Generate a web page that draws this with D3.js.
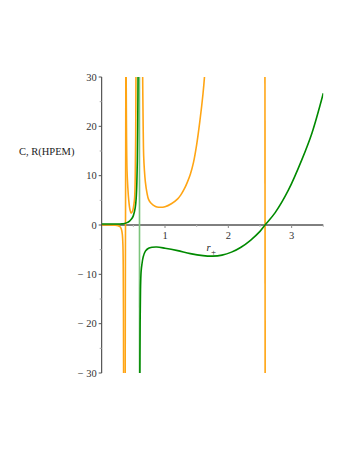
<!DOCTYPE html>
<html><head><meta charset="utf-8">
<script src="https://cdn.jsdelivr.net/npm/d3@7"></script>
<style>
html,body{margin:0;padding:0;background:#fff;}
svg{display:block;}
text{font-family:"Liberation Serif","Times New Roman",serif;}
</style></head>
<body>
<svg id="chart" width="349" height="451"></svg>
<script>
// ---- data ----
const xTicks = [1, 2, 3];
const yTicks = [-30, -20, -10, 0, 10, 20, 30];
const yLabel = "C, R(HPEM)";
const xLabel = "r";

// C (green), branch left of pole
const cLeftR = [0, 0.1, 0.2, 0.28, 0.32, 0.36, 0.40, 0.44, 0.47, 0.50, 0.53, 0.545, 0.555, 0.563, 0.569, 0.574, 0.577];
const cLeftV = [0.2, 0.2, 0.2, 0.2, 0.22, 0.3, 0.48, 0.8, 1.2, 1.9, 3.5, 5.5, 8.5, 13, 20, 30, 40];
// C pole connector
const cPoleR = [0.596, 0.598];
const cPoleV = [40, -40];
// C branch right of pole
const cRightR = [0.600, 0.603, 0.607, 0.613, 0.622, 0.635, 0.655, 0.69, 0.74, 0.80, 0.87, 1.0, 1.2, 1.4, 1.6, 1.75, 1.9, 2.05, 2.2, 2.35, 2.5, 2.58, 2.74, 2.95, 3.16, 3.32, 3.5];
const cRightV = [-40, -30, -20, -13, -9.5, -8, -6.5, -5.3, -4.7, -4.5, -4.45, -4.7, -5.2, -5.8, -6.2, -6.3, -6.1, -5.5, -4.5, -3.1, -1.3, 0, 2.5, 7.1, 13.2, 18.6, 26.7];

// R (orange), branches
const rA_R = [0, 0.1, 0.2, 0.26, 0.29, 0.31, 0.325, 0.335, 0.340, 0.344, 0.347];
const rA_V = [0, 0, -0.05, -0.15, -0.35, -0.8, -1.8, -4, -8, -18, -40];
const rB_R = [0.370, 0.373, 0.376, 0.379, 0.382];
const rB_V = [-40, -15, 0, 15, 40];
const rC_R = [0.384, 0.39, 0.40, 0.413, 0.426, 0.445, 0.465, 0.49, 0.51, 0.52, 0.53, 0.537, 0.541, 0.544];
const rC_V = [40, 22, 11, 7.5, 5.2, 3.2, 2.4, 2.9, 4.3, 5.5, 10, 18, 30, 40];
const rD_R = [0.642, 0.647, 0.655, 0.663, 0.675, 0.69, 0.715, 0.74, 0.78, 0.85, 0.9, 1.0, 1.1, 1.2, 1.25, 1.3, 1.35, 1.4, 1.45, 1.5, 1.55, 1.6, 1.625, 1.64];
const rD_V = [40, 30, 20, 14, 11, 8.7, 6.5, 5.2, 4.4, 3.75, 3.6, 3.7, 4.3, 5.3, 6.1, 7.2, 8.6, 10.3, 12.7, 16.3, 21.0, 26.6, 30.3, 33.5];
const rE_R = [2.578, 2.582];
const rE_V = [40, -40];

// ---- drawing ----
const svg = d3.select("#chart");
const x = d3.scaleLinear().domain([0, 3.5]).range([101.7, 323.3]);
const y = d3.scaleLinear().domain([-30, 30]).range([373, 77]);

svg.append("defs").append("clipPath").attr("id", "clip")
  .append("rect").attr("x", x(0)).attr("y", y(30)).attr("width", x(3.5) - x(0)).attr("height", y(-30) - y(30));

// y axis
const yAxis = svg.append("g").attr("transform", `translate(${x(0)},0)`);
yAxis.append("line").attr("y1", y(30)).attr("y2", y(-30)).attr("stroke", "#333").attr("stroke-width", 1);
d3.range(-30, 31, 5).forEach(v => {
  yAxis.append("line").attr("x1", v % 10 === 0 ? -3 : -2).attr("x2", 0)
    .attr("y1", y(v)).attr("y2", y(v)).attr("stroke", v % 10 === 0 ? "#555" : "#aaa");
});
yTicks.forEach(v => {
  yAxis.append("text").attr("x", -5).attr("y", y(v) + 3.6).attr("text-anchor", "end")
    .attr("font-size", 10.5).attr("fill", "#333")
    .text(v < 0 ? "\u2212 " + Math.abs(v) : v);
});

// x axis
const xAxis = svg.append("g").attr("transform", `translate(0,${y(0)})`);
xAxis.append("line").attr("x1", x(0)).attr("x2", x(3.5)).attr("stroke", "#000").attr("stroke-width", 1);
d3.range(0.5, 3.51, 0.5).forEach(v => {
  xAxis.append("line").attr("x1", x(v)).attr("x2", x(v)).attr("y1", 0).attr("y2", Number.isInteger(v) ? 3 : 2)
    .attr("stroke", Number.isInteger(v) ? "#888" : "#bbb");
});
xTicks.forEach(v => {
  xAxis.append("text").attr("x", x(v)).attr("y", 14).attr("text-anchor", "middle")
    .attr("font-size", 10.5).attr("fill", "#333").text(v);
});

// labels
svg.append("text").attr("x", 19).attr("y", 155).attr("font-size", 10.5).attr("fill", "#222").text(yLabel);
const xl = svg.append("text").attr("x", 206.5).attr("y", 251).attr("font-size", 10.5).attr("fill", "#222");
xl.append("tspan").attr("font-style", "italic").text(xLabel);
xl.append("tspan").attr("font-size", 9).attr("dy", 3.5).attr("dx", 0.5).text("+");

// curves
const line = d3.line().x(d => x(d[0])).y(d => y(d[1])).curve(d3.curveCatmullRom.alpha(0.5));
const plot = svg.append("g").attr("clip-path", "url(#clip)");
const zip = (a, b) => a.map((v, i) => [v, b[i]]);

const orange = "#ffa514", green = "#008a00";
[[rA_R, rA_V], [rB_R, rB_V], [rC_R, rC_V], [rD_R, rD_V], [rE_R, rE_V]].forEach(([a, b]) => {
  plot.append("path").attr("d", line(zip(a, b))).attr("fill", "none")
    .attr("stroke", orange).attr("stroke-width", 1.6);
});
plot.append("path").attr("d", line(zip(cPoleR, cPoleV))).attr("fill", "none")
  .attr("stroke", "#7cc47c").attr("stroke-width", 1.6);
[[cLeftR, cLeftV], [cRightR, cRightV]].forEach(([a, b]) => {
  plot.append("path").attr("d", line(zip(a, b))).attr("fill", "none")
    .attr("stroke", green).attr("stroke-width", 1.6);
});
</script>
</body></html>
